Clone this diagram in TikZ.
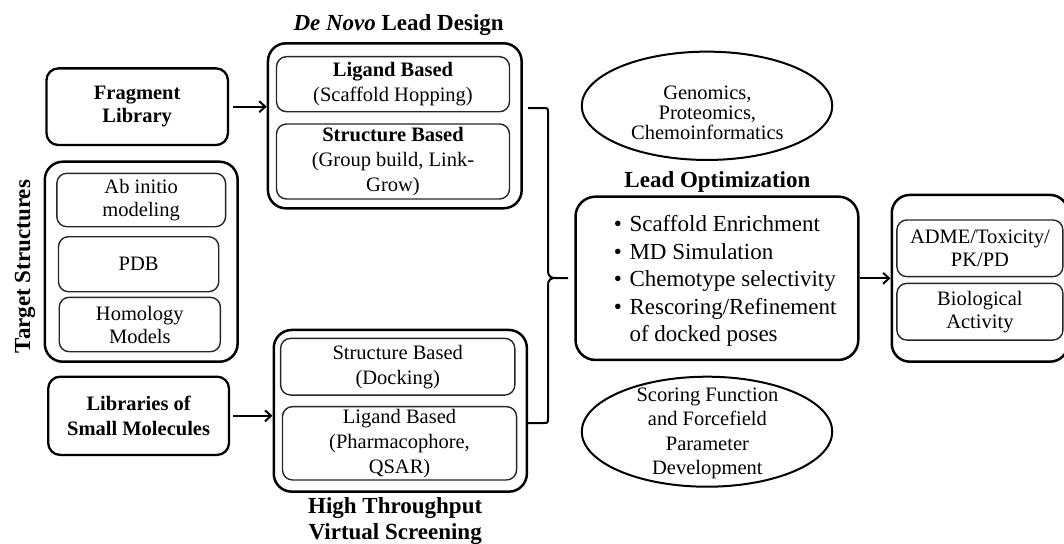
\documentclass[tikz,border=0pt]{standalone}
\usepackage{fontspec}
\setmainfont{Liberation Serif}
\usetikzlibrary{shapes.geometric,arrows.meta}
\newcommand\fbody{\fontsize{20.5}{23}\selectfont}
\newcommand\fbodyL{\fontsize{20.5}{25}\selectfont}
\newcommand\ftitle{\fontsize{23}{26.7}\selectfont\bfseries}
\newcommand\fbullet{\fontsize{23}{27.5}\selectfont}
\newcommand\fell{\fontsize{20.5}{20}\selectfont}
\newcommand\fscor{\fontsize{20.5}{24.4}\selectfont}
\begin{document}
\begin{tikzpicture}[x=1pt,y=-1pt,
 outerbox/.style={draw, line width=2.5pt, rounded corners=18pt, inner sep=0pt},
 innerbox/.style={draw, black!85, text=black, line width=1.4pt, rounded corners=10pt, inner sep=0pt, align=center, font=\fbody},
 srcbox/.style={draw, line width=2.3pt, rounded corners=12pt, inner sep=0pt, align=center, font={\fbody\bfseries}},
 ellbox/.style={draw, ellipse, line width=2pt, inner sep=0pt},
 lbl/.style={inner sep=0pt, align=center},
 arr/.style={line width=2pt, -{Straight Barb[length=6pt,width=11pt,line width=2pt]}},
 bracestyle/.style={line width=2pt, line join=round}
]
\useasboundingbox (0,0) rectangle (1064,543);

% Fragment library
\node[srcbox, minimum width=181.5pt, minimum height=76.7pt] (frag) at (137.2,106.7) {Fragment\\Library};

% De Novo Lead Design
\node[lbl, font=\ftitle] (dntitle) at (398.6,25) {\textit{De Novo} Lead Design};
\node[outerbox, minimum width=253.7pt, minimum height=165pt] (denovo) at (394.8,125.8) {};
\node[innerbox, font=\fbodyL, minimum width=233pt, minimum height=55pt] (dnlig) at (393,84.2) {\textbf{Ligand Based}\\(Scaffold Hopping)};
\node[innerbox, font=\fbodyL, minimum width=233pt, minimum height=75pt] (dnstr) at (393,161.5) {\textbf{Structure Based}\\(Group build, Link-\\Grow)};

% Target structures
\node[lbl, font=\ftitle, rotate=90] (tstitle) at (25,266.5) {Target Structures};
\node[outerbox, minimum width=192.8pt, minimum height=200pt] (target) at (141.2,261.7) {};
\node[innerbox, minimum width=168.7pt, minimum height=53.4pt] (abinit) at (141.2,200) {Ab initio\\modeling};
\node[innerbox, minimum width=160.2pt, minimum height=55pt] (pdb) at (138.6,264.2) {PDB};
\node[innerbox, minimum width=161.2pt, minimum height=54.4pt] (homol) at (139.8,324.5) {Homology\\Models};

% Libraries of small molecules
\node[srcbox, font={\fbodyL\bfseries}, minimum width=180.8pt, minimum height=78.3pt] (libs) at (138.6,415.8) {Libraries of\\Small Molecules};

% HTVS
\node[outerbox, minimum width=253.1pt, minimum height=161.7pt] (htvs) at (400.3,410.8) {};
\node[innerbox, font=\fbodyL, minimum width=234.2pt, minimum height=56.7pt] (htstr) at (397.7,366.7) {Structure Based\\(Docking)};
\node[innerbox, font=\fbodyL, minimum width=234.1pt, minimum height=73.3pt] (htlig) at (399.5,443.3) {Ligand Based\\(Pharmacophore,\\QSAR)};
\node[lbl, font=\ftitle] (httitle) at (395.2,521) {High Throughput\\Virtual Screening};

% Ellipses
\node[ellbox, minimum width=250.5pt, minimum height=108.3pt] (genom) at (707,105.8) {};
\node[lbl, font=\fell] (genomtxt) at (707.4,112.8) {Genomics,\\Proteomics,\\Chemoinformatics};
\node[ellbox, minimum width=250.5pt, minimum height=110pt] (scoring) at (707,431.7) {};
\node[lbl, font=\fscor] (scortxt) at (707.4,433.3) {Scoring Function\\and Forcefield\\Parameter\\Development};

% Lead optimization
\node[lbl, font=\ftitle] (lotitle) at (717.4,181.7) {Lead Optimization};
\node[outerbox, rounded corners=20pt, minimum width=282.8pt, minimum height=163.3pt] (lo) at (716.9,278.3) {};
\node[lbl, font=\fbullet, align=left, anchor=west] (lotxt) at (613.7,281) {\makebox[15.6pt][l]{\textbullet}Scaffold Enrichment\\\makebox[15.6pt][l]{\textbullet}MD Simulation\\\makebox[15.6pt][l]{\textbullet}Chemotype selectivity\\\makebox[15.6pt][l]{\textbullet}Rescoring/Refinement\\\makebox[15.6pt][l]{}of docked poses};

% ADME
\node[outerbox, minimum width=176.3pt, minimum height=166.7pt] (admeo) at (979.9,278.3) {};
\node[innerbox, minimum width=166pt, minimum height=56.7pt] (adme) at (979.9,248.3) {ADME/Toxicity/\\PK/PD};
\node[innerbox, minimum width=166pt, minimum height=56.7pt] (bio) at (979.9,311.7) {Biological\\Activity};

% Arrows
\draw[arr, shorten <=4pt] (frag.east) -- (frag.east -| denovo.west);
\draw[arr, shorten <=3pt] (libs.east) -- (libs.east -| htvs.west);
\draw[arr] (lo.east) -- (admeo.west);

% Brace
\coordinate (bt) at (528,108);
\coordinate (btip) at (568,278);
\coordinate (bb) at (528,423);
\draw[bracestyle] (bt) -- (543,108) .. controls (548,108) .. (548,113) -- (548,270) .. controls (548,277) and (551,278) .. (556,278) -- (btip);
\draw[bracestyle] (556,278) .. controls (551,278) and (548,279) .. (548,286) -- (548,418) .. controls (548,423) .. (543,423) -- (bb);
\end{tikzpicture}
\end{document}
